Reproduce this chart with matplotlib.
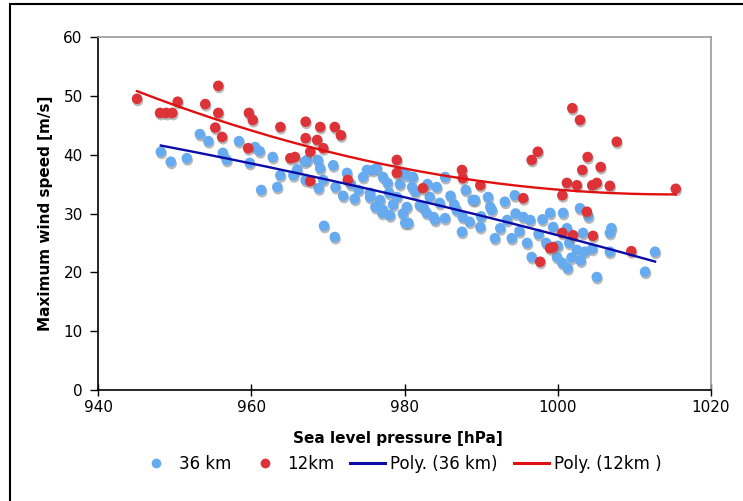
import numpy as np
import matplotlib
matplotlib.use("Agg")
import matplotlib.pyplot as plt
import matplotlib.patheffects as pe
from matplotlib.patches import Rectangle
from matplotlib.lines import Line2D

# ---- data ----
p36 = [948.2, 949.5, 951.6, 953.3, 954.4, 956.3, 956.8, 958.4, 959.8, 960.5,
       961.1, 961.3, 962.8, 963.4, 963.8, 965.5, 967.0, 967.3, 967.1, 968.7,
       969.0, 968.8, 969.4, 970.7, 969.5, 970.9, 972.5, 973.5, 974.6, 975.9,
       975.5, 976.8, 977.2, 975.1, 976.4, 975.5, 976.2, 977.2, 977.8, 977.1,
       978.1, 979.0, 979.4, 980.3, 980.1, 981.1, 981.4, 982.0, 983.3, 982.9,
       984.2, 985.3, 984.6, 985.3, 984.0, 986.8, 987.6, 987.5, 988.9, 988.5,
       989.9, 990.9, 991.4, 991.8, 989.2, 991.2, 993.1, 994.4, 993.4, 994.0,
       995.5, 996.4, 996.6, 999.0, 1000.7, 1002.9, 999.4, 1001.2, 1003.3, 999.9,
       1000.6, 1001.3, 1002.5, 1003.5, 1005.1, 1006.8, 1006.8, 1011.4, 1012.7, 980.5,
       979.5, 980.3, 982.5, 983.8, 978.0, 981.0, 974.0, 972.0, 986.0, 988.0,
       992.5, 995.0, 997.5, 998.5, 1001.5, 1004.5, 1004.0, 1007.0, 1000.0, 1003.0,
       1001.8, 966.0, 971.0, 973.0, 978.5, 979.8, 983.0, 986.5, 990.0, 994.5,
       996.0, 998.0]
w36 = [40.5, 38.8, 39.4, 43.5, 42.3, 40.3, 39.1, 42.3, 38.6, 41.3,
       40.6, 34.0, 39.6, 34.5, 36.5, 36.5, 38.8, 39.1, 35.7, 39.1,
       37.7, 34.3, 35.7, 38.2, 27.9, 26.0, 36.9, 32.5, 36.2, 37.4,
       33.5, 32.3, 30.6, 37.4, 37.7, 32.8, 31.1, 36.2, 35.2, 30.1,
       29.7, 32.8, 35.0, 31.1, 28.4, 36.2, 33.7, 31.4, 32.8, 30.1,
       34.5, 36.2, 31.8, 29.2, 28.9, 30.6, 29.4, 26.9, 32.3, 28.6,
       27.7, 32.8, 30.6, 25.8, 32.3, 31.1, 32.0, 33.1, 28.9, 25.8,
       29.4, 28.9, 22.6, 30.1, 30.1, 30.9, 27.7, 27.5, 26.7, 22.6,
       21.6, 20.7, 23.8, 23.5, 19.2, 26.7, 23.5, 20.1, 23.5, 28.4,
       37.0, 36.5, 31.0, 29.4, 33.5, 34.5, 34.0, 33.0, 33.0, 34.0,
       27.5, 27.0, 26.5, 25.0, 25.0, 24.0, 29.5, 27.5, 24.5, 22.0,
       22.5, 37.5, 34.5, 35.0, 31.5, 30.0, 35.0, 31.5, 29.5, 30.0,
       25.0, 29.0]

p12 = [945.1, 948.1, 948.9, 949.7, 950.4, 954.0, 955.7, 955.7, 955.3, 956.2,
       959.7, 960.2, 959.6, 963.8, 967.1, 969.0, 970.9, 971.7, 967.1, 968.6,
       969.4, 967.7, 965.1, 965.7, 967.7, 972.6, 979.0, 979.0, 982.4, 987.5,
       987.6, 989.9, 995.5, 996.6, 997.4, 1001.9, 1002.9, 1007.7, 1003.9, 1003.2,
       1005.6, 1001.2, 1002.5, 1004.5, 1005.1, 1006.8, 1000.6, 1015.4, 1003.8, 1000.6,
       1002.0, 1004.6, 999.0, 999.4, 997.7, 1009.6]
w12 = [49.5, 47.1, 47.1, 47.1, 49.0, 48.6, 51.7, 47.1, 44.6, 43.0,
       47.1, 45.9, 41.1, 44.7, 45.6, 44.7, 44.7, 43.3, 42.8, 42.5,
       41.1, 40.5, 39.4, 39.6, 35.5, 35.7, 39.1, 36.9, 34.3, 37.4,
       36.0, 34.8, 32.6, 39.1, 40.5, 47.9, 45.9, 42.2, 39.6, 37.4,
       37.9, 35.2, 34.8, 34.8, 35.2, 34.7, 33.1, 34.2, 30.3, 26.7,
       26.3, 26.2, 24.1, 24.3, 21.8, 23.6]

x_ticks = [940, 960, 980, 1000, 1020]
y_ticks = [0, 10, 20, 30, 40, 50, 60]
series_labels = ["36 km", "12km", "Poly. (36 km)", "Poly. (12km )"]
x_label = "Sea level pressure [hPa]"
y_label = "Maximum wind speed [m/s]"

# ---- figure ----
plt.rcParams['font.family'] = ['DejaVu Sans']
fig = plt.figure(figsize=(7.43, 5.01), dpi=100)
ax = fig.add_axes([98/743, 1-390/501, 613/743, 353/501])

shadow = [pe.SimplePatchShadow(offset=(0.6, -1.6), shadow_rgbFace='#808080', alpha=0.55), pe.Normal()]
c36 = '#66aaf0'
c12 = '#dc3238'
cl36 = '#0b0ba8'
cl12 = '#e01010'
sc1 = ax.scatter(p36, w36, s=58, color=c36, edgecolors='none', zorder=2)
sc2 = ax.scatter(p12, w12, s=58, color=c12, edgecolors='none', zorder=3)
sc1.set_path_effects(shadow)
sc2.set_path_effects(shadow)

a36 = np.array(p36); b36 = np.array(w36)
a12 = np.array(p12); b12 = np.array(w12)
f36 = np.polyfit(a36, b36, 2)
f12 = np.polyfit(a12, b12, 2)
xx36 = np.linspace(a36.min(), a36.max(), 200)
xx12 = np.linspace(a12.min(), a12.max(), 200)
ax.plot(xx36, np.polyval(f36, xx36), color=cl36, lw=1.7, zorder=4)
ax.plot(xx12, np.polyval(f12, xx12), color=cl12, lw=1.7, zorder=4)

ax.set_xlim(940, 1020)
ax.set_ylim(0, 60)
ax.set_xticks(x_ticks)
ax.set_yticks(y_ticks)
ax.tick_params(axis='x', direction='inout', length=8, width=1, labelsize=11, pad=3)
ax.tick_params(axis='y', direction='out', length=6, width=1, labelsize=11, pad=5)
for s in ['top', 'right']:
    ax.spines[s].set_color('#999999')
    ax.spines[s].set_linewidth(1.2)
for s in ['left', 'bottom']:
    ax.spines[s].set_color('black')
    ax.spines[s].set_linewidth(1.2)

ax.set_xlabel(x_label, fontsize=11, fontweight='bold')
ax.set_ylabel(y_label, fontsize=11, fontweight='bold')
ax.xaxis.set_label_coords(0.49, -0.116)
ax.yaxis.set_label_coords(-0.074, 0.5)

handles = [Line2D([], [], ls='none', marker='o', ms=7, color=c36, mec='none'),
           Line2D([], [], ls='none', marker='o', ms=7, color=c12, mec='none'),
           Line2D([], [], color=cl36, lw=2.2),
           Line2D([], [], color=cl12, lw=2.2)]
fig.legend(handles=handles, labels=series_labels,
           loc='center', bbox_to_anchor=(400/743, 1-464/501), ncol=4, frameon=False,
           fontsize=12, handlelength=2.1, handletextpad=0.3, columnspacing=0.95)

fig.patches.append(Rectangle((10/743, -0.1), 1.2, 1.1 - 4/501, transform=fig.transFigure,
                             fill=False, edgecolor='black', lw=1.5))

fig.savefig('out.png', dpi=100)
